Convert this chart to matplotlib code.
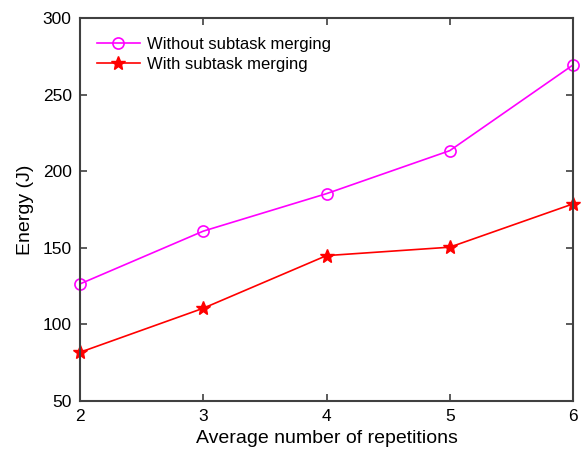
import matplotlib.pyplot as plt

plt.rcParams['font.family'] = ['Liberation Sans', 'DejaVu Sans']

repetitions = [2, 3, 4, 5, 6]
energy_without = [126.5, 161.0, 185.5, 213.6, 269.6]
energy_with = [81.8, 110.6, 145.0, 150.5, 178.8]

fig = plt.figure(figsize=(5.82, 4.51), dpi=100)
ax = fig.add_axes([0.1375, 0.111, 0.847, 0.848])

ax.plot(repetitions, energy_without, color='#ff00ff', marker='o', markersize=8,
        markerfacecolor='none', markeredgewidth=1.2, linewidth=1.2,
        label='Without subtask merging', clip_on=False)
ax.plot(repetitions, energy_with, color='#ff0000', marker='*', markersize=10,
        linewidth=1.2, label='With subtask merging', clip_on=False)

ax.set_xlim(2, 6)
ax.set_ylim(50, 300)
ax.set_xticks(repetitions)
ax.set_yticks([50, 100, 150, 200, 250, 300])
ax.tick_params(direction='in', length=5, width=1.2, labelsize=12.5, colors='#404040',
               labelcolor='#000000', pad=6, top=True, right=True)
for s in ax.spines.values():
    s.set_linewidth(1.5)
    s.set_color('#404040')

ax.set_xlabel('Average number of repetitions', fontsize=14, labelpad=4)
ax.set_ylabel('Energy (J)', fontsize=14, labelpad=6)
ax.legend(loc='upper left', frameon=False, fontsize=12, handlelength=2.6,
          handletextpad=0.4, bbox_to_anchor=(0.0, 0.995), borderaxespad=0.6,
          labelspacing=0.3)

fig.savefig('out.png', dpi=100)
